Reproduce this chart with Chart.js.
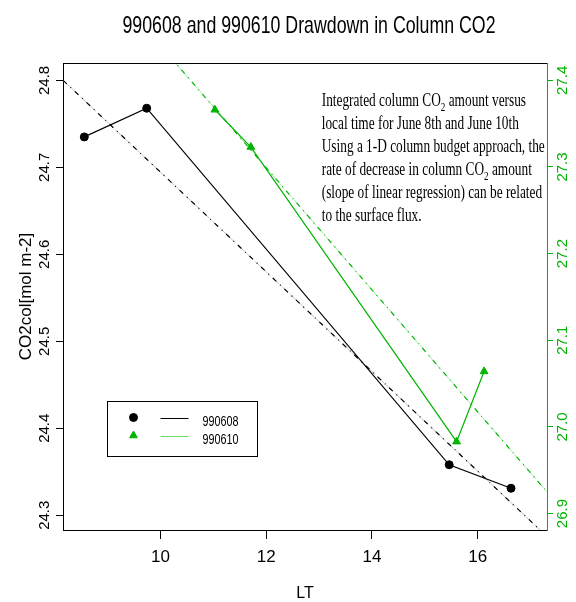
<!DOCTYPE html>
<html>
<head>
<title>990608 and 990610 Drawdown in Column CO2</title>
<script src="https://cdn.jsdelivr.net/npm/chart.js"></script>
<style>
  body { margin: 0; background: #fff; }
  canvas { display: block; }
</style>
</head>
<body>
<canvas id="chart" width="576" height="602"></canvas>

<script>
// 990608: local time vs column CO2 (left axis)
const lt608 = [8.56, 9.74, 15.46, 16.63];
const co2608 = [24.735, 24.768, 24.358, 24.331];
// 990610: local time vs column CO2 (right axis)
const lt610 = [11.03, 11.71, 15.60, 16.12];
const co2610 = [27.366, 27.323, 26.983, 27.064];
// linear regression lines (end points)
const fitLt608 = [8.16, 17.31];
const fitCo2608 = [24.80, 24.2755];
const fitLt610 = [10.0, 17.31];
const fitCo2610 = [27.44, 26.925];

// axes
const xRange = [8.157, 17.31];
const leftRange = [24.283, 24.82];
const rightRange = [26.881, 27.42];
const xTicks = [10, 12, 14, 16];
const leftTicks = [24.3, 24.4, 24.5, 24.6, 24.7, 24.8];
const rightTicks = [26.9, 27.0, 27.1, 27.2, 27.3, 27.4];

const titleText = '990608 and 990610 Drawdown in Column CO2';
const noteLines = [
  'Integrated column CO_2 amount versus',
  'local time for June 8th and June 10th',
  'Using a 1-D column budget approach, the',
  'rate of decrease in column CO_2 amount',
  '(slope of linear regression) can be related',
  'to the surface flux.'
];

const GREEN = '#00b400';
const SANS = "'Liberation Sans', Arial, sans-serif";
const NARROW = "'Liberation Sans Narrow', 'Liberation Sans', Arial, sans-serif";
const SERIF = "'Liberation Serif', 'Times New Roman', serif";

const pts = (xs, ys) => xs.map((x, i) => ({ x: x, y: ys[i] }));
const fixTicks = list => scale => { scale.ticks = list.map(v => ({ value: v })); };

// draw text squeezed horizontally by sx
function squeezed(ctx, text, x, y, sx) {
  ctx.save();
  ctx.translate(x, y);
  ctx.scale(sx, 1);
  ctx.fillText(text, 0, 0);
  ctx.restore();
}

// a line with "_2" style subscripts
function richLine(ctx, line, x, y, sx, size) {
  const parts = line.split(/_(\d)/);
  let cx = x;
  parts.forEach((p, i) => {
    const sub = i % 2 === 1;
    ctx.font = (sub ? Math.round(size * 0.7) : size) + 'px ' + SERIF;
    squeezed(ctx, p, cx, sub ? y + 5 : y, sx);
    cx += ctx.measureText(p).width * sx;
  });
}

const extras = {
  id: 'extras',
  afterDraw(chart) {
    const { ctx, chartArea: a, scales } = chart;
    ctx.save();

    // top edge of the box
    ctx.strokeStyle = '#000';
    ctx.lineWidth = 1;
    ctx.beginPath();
    ctx.moveTo(a.left, a.top + 0.5);
    ctx.lineTo(a.right, a.top + 0.5);
    ctx.stroke();

    ctx.fillStyle = '#000';
    ctx.textBaseline = 'alphabetic';
    ctx.textAlign = 'left';

    // title
    ctx.font = '24px ' + SANS;
    const tw = ctx.measureText(titleText).width;
    const tsx = 373 / tw;
    squeezed(ctx, titleText, 309 - 373 / 2, 33, tsx);

    // note text
    const nx = scales.x.getPixelForValue(13.05);
    const ny = scales.y.getPixelForValue(24.7706);
    ctx.font = '19px ' + SERIF;
    const nsx = 223 / ctx.measureText(noteLines[2]).width;
    noteLines.forEach((line, i) => richLine(ctx, line, nx, ny + i * 23, nsx, 19));

    // legend box
    const lx = Math.round(scales.x.getPixelForValue(8.99)) + 0.5;
    const ly = Math.round(scales.y.getPixelForValue(24.431)) + 0.5;
    ctx.strokeStyle = '#000';
    ctx.strokeRect(lx, ly, 150, 55);
    const rows = [
      { ds: 0, dy: 16, line: '#000' },
      { ds: 1, dy: 34, line: '#66d966' }
    ];
    rows.forEach(r => {
      const d = chart.data.datasets[r.ds];
      ctx.fillStyle = d.backgroundColor;
      ctx.strokeStyle = d.borderColor;
      Chart.helpers.drawPoint(ctx, { pointStyle: d.pointStyle, radius: d.pointRadius, rotation: 0, borderWidth: 1 }, lx + 26, ly + r.dy);
      ctx.strokeStyle = r.line;
      ctx.lineWidth = 1;
      ctx.beginPath();
      ctx.moveTo(lx + 53, Math.round(ly + r.dy) + 0.5);
      ctx.lineTo(lx + 81, Math.round(ly + r.dy) + 0.5);
      ctx.stroke();
      ctx.fillStyle = '#000';
      ctx.font = '15px ' + SANS;
      squeezed(ctx, d.label, lx + 95, ly + r.dy + 8, 0.72);
    });

    ctx.restore();
  }
};

new Chart(document.getElementById('chart'), {
  type: 'line',
  data: {
    datasets: [{
      label: '990608',
      data: pts(lt608, co2608),
      yAxisID: 'y',
      borderColor: '#000',
      backgroundColor: '#000',
      borderWidth: 1.2,
      pointStyle: 'circle',
      pointRadius: 4,
      pointBorderWidth: 1
    }, {
      label: '990610',
      data: pts(lt610, co2610),
      yAxisID: 'y2',
      borderColor: GREEN,
      backgroundColor: GREEN,
      borderWidth: 1.2,
      pointStyle: 'triangle',
      pointRadius: 4.5,
      pointBorderWidth: 1
    }, {
      label: 'fit 990608',
      data: pts(fitLt608, fitCo2608),
      yAxisID: 'y',
      borderColor: '#000',
      borderWidth: 1.2,
      borderDash: [5, 5, 1, 5],
      pointRadius: 0
    }, {
      label: 'fit 990610',
      data: pts(fitLt610, fitCo2610),
      yAxisID: 'y2',
      borderColor: GREEN,
      borderWidth: 1.2,
      borderDash: [5, 5, 1, 5],
      pointRadius: 0
    }, {
      label: 'fit 990608 (dashed)',
      data: pts(fitLt608, fitCo2608),
      yAxisID: 'y',
      borderColor: '#c4c4c4',
      borderWidth: 1,
      borderDash: [9, 3],
      pointRadius: 0
    }, {
      label: 'fit 990610 (dashed)',
      data: pts(fitLt610, fitCo2610),
      yAxisID: 'y2',
      borderColor: '#a8e8a8',
      borderWidth: 1,
      borderDash: [9, 3],
      pointRadius: 0
    }]
  },
  options: {
    responsive: false,
    animation: false,
    devicePixelRatio: 1,
    layout: { padding: { top: 63 } },
    plugins: {
      legend: { display: false },
      tooltip: { enabled: false },
      title: { display: false }
    },
    scales: {
      x: {
        type: 'linear',
        min: xRange[0],
        max: xRange[1],
        afterBuildTicks: fixTicks(xTicks),
        afterFit: s => { s.height = 72; },
        border: { color: '#000' },
        grid: { drawOnChartArea: false, tickLength: 9, color: '#000' },
        ticks: { color: '#000', padding: 8, autoSkip: false, maxRotation: 0, font: { family: NARROW, size: 17 } },
        title: { display: true, text: 'LT', color: '#000', font: { family: NARROW, size: 16, lineHeight: 1 }, padding: { top: 0, bottom: 0 } }
      },
      y: {
        type: 'linear',
        position: 'left',
        min: leftRange[0],
        max: leftRange[1],
        afterBuildTicks: fixTicks(leftTicks),
        afterFit: s => { s.width = 63; },
        border: { color: '#000' },
        grid: { drawOnChartArea: false, tickLength: 7, color: '#000' },
        ticks: {
          color: '#000', autoSkip: false, minRotation: 90, maxRotation: 90,
          crossAlign: 'center', padding: -3.6,
          font: { family: SANS, size: 15 },
          callback: v => v.toFixed(1)
        },
        title: { display: true, text: 'CO2col[mol m-2]', color: '#000', font: { family: SANS, size: 17, lineHeight: 1.2 }, padding: { top: 16, bottom: 0 } }
      },
      y2: {
        type: 'linear',
        position: 'right',
        min: rightRange[0],
        max: rightRange[1],
        afterBuildTicks: fixTicks(rightTicks),
        afterFit: s => { s.width = 29; },
        border: { color: GREEN },
        grid: { drawOnChartArea: false, tickLength: 6, color: GREEN },
        ticks: {
          color: GREEN, autoSkip: false, minRotation: 90, maxRotation: 90,
          crossAlign: 'center', padding: -4.6,
          font: { family: SANS, size: 15 },
          callback: v => v.toFixed(1)
        }
      }
    }
  },
  plugins: [extras]
});
</script>
</body>
</html>
